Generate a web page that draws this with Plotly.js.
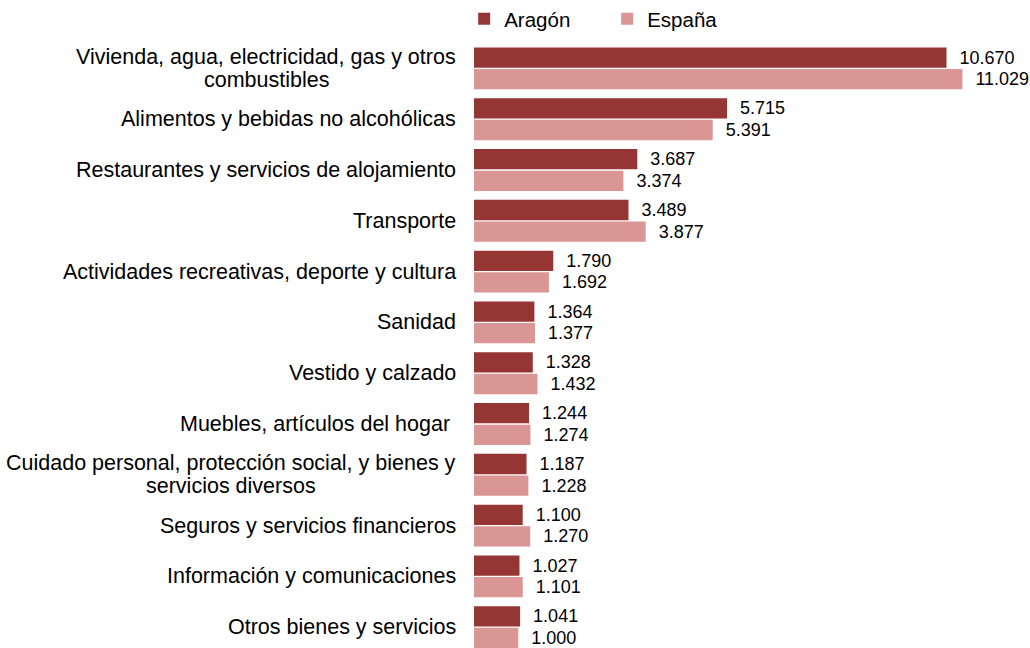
<!DOCTYPE html>
<html><head><meta charset="utf-8">
<script src="https://cdn.plot.ly/plotly-3.0.1.min.js"></script>
<style>body{margin:0;background:#fff}#c{width:1030px;height:648px}</style>
</head><body><div id="c"></div>
<script>
const categories = [
  "Vivienda, agua, electricidad, gas y otros<br>combustibles",
  "Alimentos y bebidas no alcohólicas",
  "Restaurantes y servicios de alojamiento",
  "Transporte",
  "Actividades recreativas, deporte y cultura",
  "Sanidad",
  "Vestido y calzado",
  "Muebles, artículos del hogar ",
  "Cuidado personal, protección social, y bienes y<br>servicios diversos",
  "Seguros y servicios financieros",
  "Información y comunicaciones",
  "Otros bienes y servicios"
];
const aragon = [10670, 5715, 3687, 3489, 1790, 1364, 1328, 1244, 1187, 1100, 1027, 1041];
const espana = [11029, 5391, 3374, 3877, 1692, 1377, 1432, 1274, 1228, 1270, 1101, 1000];

const FAM = "Liberation Sans, Arial, sans-serif";
const CAT_SIZE = 21.5;
const fmt = v => "  " + (v/1000).toFixed(3);
const valFont = {family: FAM, size: 18, color: "#000"};

const traces = [
  {type: "bar", orientation: "h", name: "Aragón", y: categories, x: aragon,
   marker: {color: "#963634"}, text: aragon.map(fmt), textposition: "outside",
   textfont: valFont, cliponaxis: false},
  {type: "bar", orientation: "h", name: "España", y: categories, x: espana,
   marker: {color: "#DA9694"}, text: espana.map(fmt), textposition: "outside",
   textfont: valFont, cliponaxis: false}
];

// Category labels as annotations (multi-line labels centered, block right-aligned)
const meas = document.createElement("canvas").getContext("2d");
meas.font = CAT_SIZE + "px " + FAM;
const RIGHT = -18; // px left of plot area
const annotations = [];
categories.forEach(c => {
  const lines = c.split("<br>");
  const n = lines.length;
  const maxW = Math.max(...lines.map(l => meas.measureText(l).width));
  const center = RIGHT - maxW / 2;
  lines.forEach((ln, i) => {
    annotations.push({
      xref: "paper", yref: "y", x: 0, y: c, xanchor: "center",
      text: ln, showarrow: false,
      font: {family: FAM, size: CAT_SIZE, color: "#000"},
      yshift: (n - 1) * 11.5 - i * 23,
      xshift: center
    });
  });
});

const layout = {
  width: 1030, height: 648,
  margin: {l: 474, r: 10, t: 43, b: 0, autoexpand: false},
  paper_bgcolor: "#fff", plot_bgcolor: "#fff",
  font: {family: FAM, size: 18, color: "#000"},
  barmode: "group", bargap: 0.15, bargroupgap: 0.06,
  xaxis: {range: [0, 12330], showgrid: false, zeroline: false, showticklabels: false, ticks: "", showline: false},
  yaxis: {type: "category", range: [11.41, -0.5], showgrid: false, zeroline: false, ticks: "",
          showticklabels: false, showline: false},
  annotations: annotations,
  showlegend: true,
  legend: {orientation: "h", x: -0.018, xanchor: "left", y: 1.040, yanchor: "middle",
           font: {family: FAM, size: 20.5, color: "#000"},
           itemwidth: 30, entrywidth: 98, traceorder: "normal"}
};
Plotly.newPlot("c", traces, layout, {displayModeBar: false});
</script></body></html>
